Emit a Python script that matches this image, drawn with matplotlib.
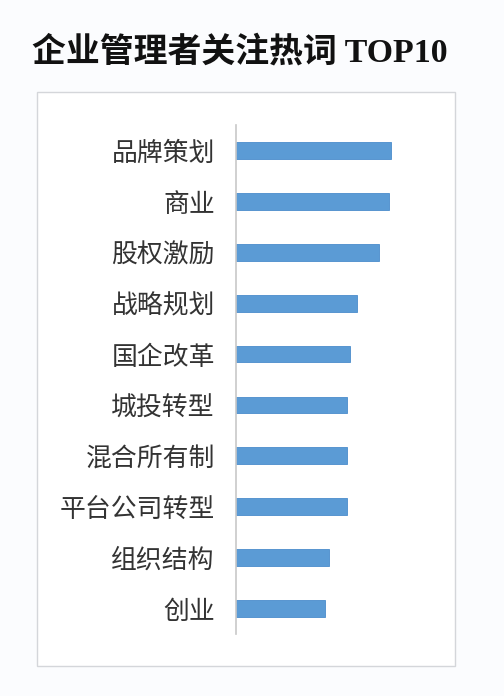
import matplotlib
matplotlib.use('Agg')
import matplotlib.pyplot as plt
from matplotlib.patches import Rectangle

# Top 10 hot words (top to bottom) and their relative weights
keywords = ['品牌策划', '商业', '股权激励', '战略规划', '国企改革',
            '城投转型', '混合所有制', '平台公司转型', '组织结构', '创业']
scores = [155, 153, 143, 121, 114, 111, 111, 111, 93, 89]

title = '企业管理者关注热词 TOP10'

plt.rcParams['font.family'] = ['Noto Sans CJK SC', 'DejaVu Sans']

fig = plt.figure(figsize=(5.04, 6.96), dpi=100)
fig.patch.set_facecolor('#fbfcfe')

# chart frame
fig.patches.append(Rectangle((0.0734, 0.0431), 0.8294, 0.8247,
                             transform=fig.transFigure, facecolor='white',
                             edgecolor='#d4d6da', lw=1.0, zorder=-5))

fig.text(0.064, 0.925, title, fontsize=24.4, fontweight='bold',
         family=['Liberation Serif', 'Noto Sans CJK SC'],
         ha='left', va='center', color='#111111')

ax = fig.add_axes([0.4677, 0.0891, 0.397, 0.7313])
ax.set_zorder(2)
ax.set_facecolor('none')
pos = list(range(len(keywords)))
ax.barh(pos, scores, height=0.33, color='#5b9bd5', edgecolor='#4a8ccc', lw=0.6)
ax.set_ylim(len(keywords) - 0.5, -0.5)
ax.set_xlim(0, 200)

ax.set_yticks(pos)
ax.set_yticklabels(keywords, fontsize=18.6, color='#333333', fontweight='light')
ax.tick_params(axis='y', length=0, pad=15)
ax.set_xticks([])

for side in ['top', 'right', 'bottom']:
    ax.spines[side].set_visible(False)
ax.spines['left'].set_color('#c8c8c8')
ax.spines['left'].set_linewidth(1.2)

fig.savefig('out.png', dpi=100, facecolor=fig.get_facecolor())
